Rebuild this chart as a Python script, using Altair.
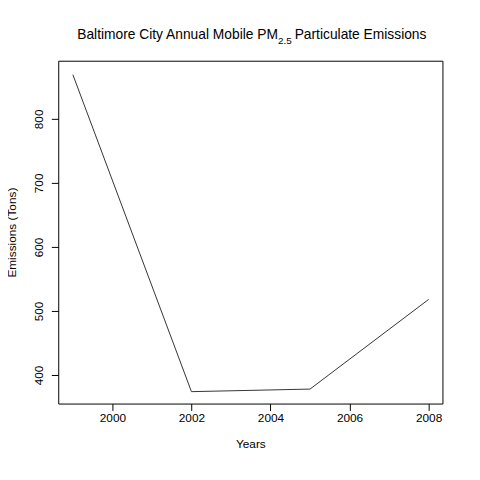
import pandas as pd
import altair as alt

years = [1999, 2002, 2005, 2008]
emissions = [869, 374, 378, 518]

df = pd.DataFrame({"Years": years, "Emissions": emissions})
FONT = "Liberation Sans"

line = alt.Chart(df).mark_line(color="#333333", strokeWidth=1).encode(
    x=alt.X("Years:Q", scale=alt.Scale(domain=[1998.63, 2008.35], nice=False, zero=False),
            axis=alt.Axis(values=[2000, 2002, 2004, 2006, 2008], format="d", title="Years",
                          titlePadding=16)),
    y=alt.Y("Emissions:Q", scale=alt.Scale(domain=[355.4, 890.8], nice=False, zero=False),
            axis=alt.Axis(values=[400, 500, 600, 700, 800], title="Emissions (Tons)",
                          labelAngle=270, labelAlign="center", labelBaseline="bottom",
                          labelPadding=6, titlePadding=14)),
)

title_parts = [
    ("Baltimore City Annual Mobile PM", 223, -22, 14, "right"),
    ("2.5", 223, -17, 10, "left"),
    (" Particulate Emissions", 240, -22, 14, "left"),
]
layers = [line]
for txt, x, y, size, align in title_parts:
    layers.append(
        alt.Chart(pd.DataFrame({"t": [txt]})).mark_text(
            align=align, baseline="alphabetic", fontSize=size, font=FONT, color="black"
        ).encode(x=alt.value(x), y=alt.value(y), text="t:N")
    )

chart = alt.layer(*layers).properties(
    width=390, height=348, autosize=alt.AutoSizeParams(type="none"),
    padding={"left": 51, "top": 50, "right": 30, "bottom": 70},
).configure(background="white").configure_view(
    stroke="black", strokeWidth=1
).configure_axis(
    domain=False, grid=False, tickColor="black", tickSize=7, labelFont=FONT,
    titleFont=FONT, labelFontSize=12, titleFontSize=12, titleFontWeight="normal",
    labelColor="black", titleColor="black",
)

chart.save("out.html", embed_options={"renderer": "svg", "actions": False})
